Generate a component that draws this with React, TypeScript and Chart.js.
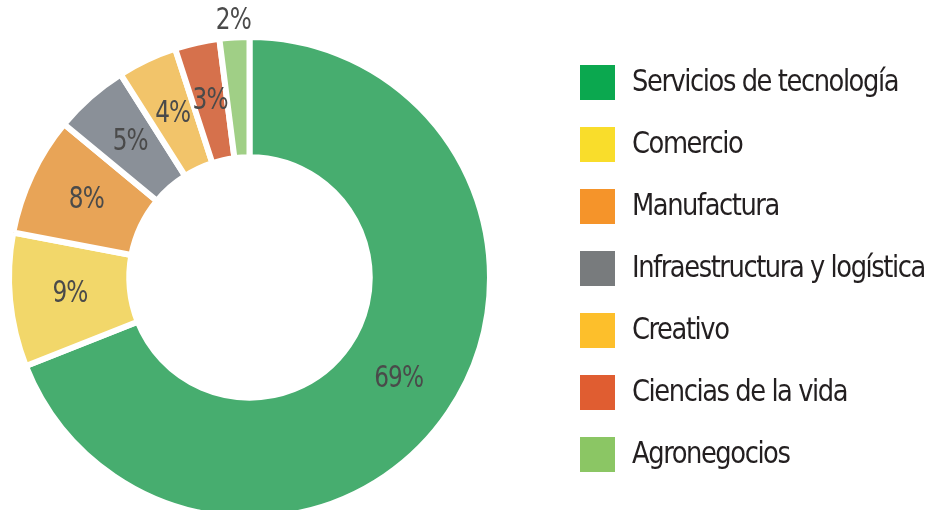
import { useEffect, useRef } from 'react';
import { Chart, registerables } from 'chart.js';

Chart.register(...registerables);

const categories = [
  'Servicios de tecnología',
  'Comercio',
  'Manufactura',
  'Infraestructura y logística',
  'Creativo',
  'Ciencias de la vida',
  'Agronegocios',
];
const shares = [69, 9, 8, 5, 4, 3, 2];
const sliceColors = ['#47ad6f', '#f2d76a', '#e8a457', '#8a9098', '#f2c46a', '#d6714c', '#a0cf86'];
const legendColors = ['#0ba84f', '#f9dd2b', '#f5942a', '#787b7d', '#fdbf2b', '#e05d31', '#8bc664'];

const FONT = "'Liberation Sans Narrow', 'DejaVu Sans Condensed', 'Roboto Condensed', sans-serif";

function squeezedText(ctx: CanvasRenderingContext2D, text: string, x: number, y: number, f: number) {
  ctx.save();
  ctx.translate(x, y);
  ctx.scale(f, 1);
  ctx.fillText(text, 0, 0);
  ctx.restore();
}

const pctLabels = {
  id: 'pctLabels',
  afterDatasetsDraw(chart: any) {
    const ctx = chart.ctx;
    const meta = chart.getDatasetMeta(0);
    ctx.save();
    ctx.font = `30px ${FONT}`;
    (ctx as any).letterSpacing = '-1px';
    ctx.fillStyle = '#4a4a4a';
    ctx.textAlign = 'center';
    ctx.textBaseline = 'middle';
    const f = Math.min(1, 49 / ctx.measureText('69%').width);
    meta.data.forEach((arc: any, i: number) => {
      const v = shares[i];
      const p = arc.getProps(['x', 'y', 'startAngle', 'endAngle', 'innerRadius', 'outerRadius'], true);
      const mid = (p.startAngle + p.endAngle) / 2;
      const r = v < 3 ? p.outerRadius + 16 : (p.innerRadius + p.outerRadius) / 2;
      squeezedText(ctx, `${v}%`, p.x + Math.cos(mid) * r, p.y + Math.sin(mid) * r, f);
    });
    ctx.restore();
  },
};

const sideLegend = {
  id: 'sideLegend',
  afterDraw(chart: any) {
    const ctx = chart.ctx;
    const labels = chart.data.labels as string[];
    ctx.save();
    ctx.font = `30px ${FONT}`;
    (ctx as any).letterSpacing = '-1.5px';
    ctx.textAlign = 'left';
    ctx.textBaseline = 'middle';
    const f = Math.min(1, 266 / ctx.measureText(labels[0]).width);
    labels.forEach((lab, i) => {
      const top = 65 + i * 62;
      ctx.fillStyle = legendColors[i];
      ctx.fillRect(580, top, 35, 35);
      ctx.fillStyle = '#231f20';
      squeezedText(ctx, lab, 632, top + 18, f);
    });
    ctx.restore();
  },
};

export default function App() {
  const ref = useRef<HTMLCanvasElement>(null);
  useEffect(() => {
    if (!ref.current) return;
    const chart = new Chart(ref.current, {
      type: 'doughnut',
      data: {
        labels: categories,
        datasets: [
          {
            data: shares,
            backgroundColor: sliceColors,
            borderColor: '#ffffff',
            borderWidth: 6,
            clip: false,
          } as any,
        ],
      },
      options: {
        animation: false,
        responsive: true,
        maintainAspectRatio: false,
        events: [],
        radius: 240.5,
        cutout: '50%',
        layout: { padding: { left: 0, right: 436, top: 45, bottom: 0 } },
        plugins: {
          legend: { display: false },
          tooltip: { enabled: false },
        },
      } as any,
      plugins: [pctLabels, sideLegend],
    });
    return () => chart.destroy();
  }, []);
  return (
    <div style={{ position: 'fixed', left: 0, top: 0, width: 935, height: 510, background: '#fff' }}>
      <canvas ref={ref} />
    </div>
  );
}
